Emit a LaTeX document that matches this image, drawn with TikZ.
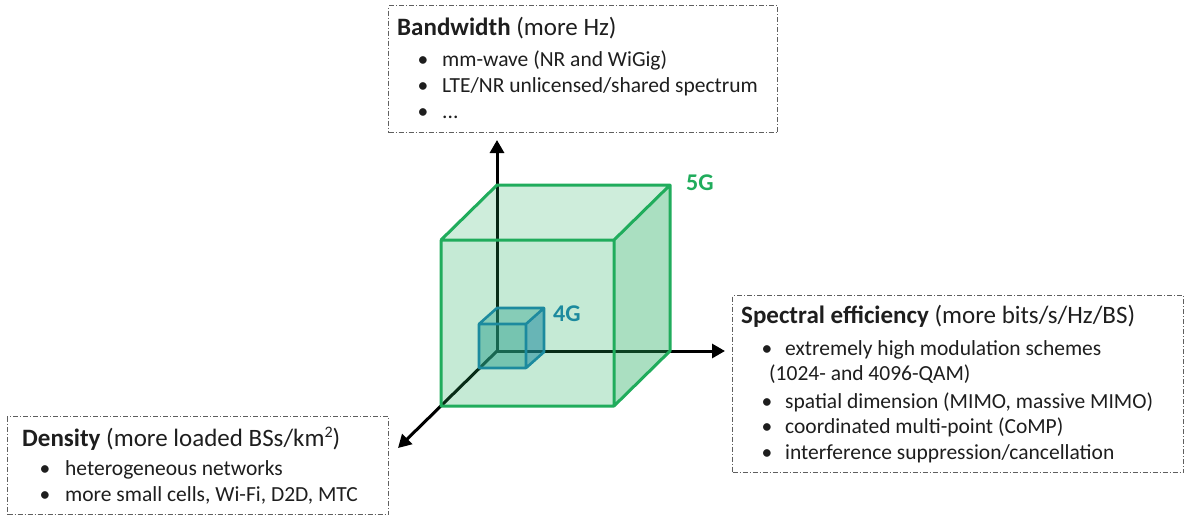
\documentclass[tikz,border=0pt]{standalone}
\usepackage{fontspec}
\setmainfont{Carlito}
\usetikzlibrary{arrows.meta}
\definecolor{fivegreen}{RGB}{32,172,92}
\definecolor{fourteal}{RGB}{28,138,158}
\definecolor{tealfill}{RGB}{40,160,140}
\definecolor{txt}{RGB}{30,30,30}
\definecolor{frame}{RGB}{95,95,95}
\newcommand{\bodyfont}{\fontsize{21.5}{26}\selectfont}
\newcommand{\headfont}{\fontsize{25}{30}\selectfont}
\newcommand{\supsq}{\raisebox{0.33em}{\fontsize{16}{16}\selectfont 2}}
\begin{document}
\begin{tikzpicture}[x=1pt,y=-1pt,
  textline/.style={anchor=base west,inner sep=0pt,text=txt,font=\bodyfont},
  headline/.style={anchor=base west,inner sep=0pt,text=txt,font=\headfont},
  bulletmark/.style={anchor=base,inner sep=0pt,text=txt,font=\bodyfont},
  infobox/.style={draw=frame,line width=1pt,dash pattern=on 5pt off 2pt on 1pt off 2pt,
    anchor=north west,inner sep=0pt},
  axisline/.style={line width=3pt,black,-{Triangle[length=13pt,width=14pt]}},
  bigedge/.style={draw=fivegreen,line width=3pt,line join=round},
  smalledge/.style={draw=fourteal,line width=2.6pt,line join=round},
  cubelabel/.style={anchor=base west,inner sep=0pt,font=\bfseries\fontsize{24}{24}\selectfont}
]
\useasboundingbox (0,0) rectangle (1187,515);

% frames of the three text panels
\node[infobox,minimum width=389pt,minimum height=127pt] (bwbox) at (388,5) {};
\node[infobox,minimum width=451pt,minimum height=177pt] (sebox) at (732,295) {};
\node[infobox,minimum width=381pt,minimum height=98pt] (dnbox) at (7,416) {};

% bandwidth panel
\node[headline] (bwtitle) at (397,35) {\textbf{Bandwidth} (more Hz)};
\node[bulletmark] (bwb1) at (423,66) {•};
\node[textline] (bwl1) at (442,66) {mm-wave (NR and WiGig)};
\node[bulletmark] (bwb2) at (423,92) {•};
\node[textline] (bwl2) at (442,92) {LTE/NR unlicensed/shared spectrum};
\node[bulletmark] (bwb3) at (423,118) {•};
\node[textline] (bwl3) at (442,118) {...};

% spectral efficiency panel
\node[headline] (setitle) at (741,323) {\textbf{Spectral efficiency} (more bits/s/Hz/BS)};
\node[bulletmark] (seb1) at (767,355) {•};
\node[textline] (sel1) at (785,355) {extremely high modulation schemes};
\node[textline] (sel1b) at (769,380) {(1024- and 4096-QAM)};
\node[bulletmark] (seb2) at (767,408) {•};
\node[textline] (sel2) at (785,408) {spatial dimension (MIMO, massive MIMO)};
\node[bulletmark] (seb3) at (767,433) {•};
\node[textline] (sel3) at (785,433) {coordinated multi-point (CoMP)};
\node[bulletmark] (seb4) at (767,459) {•};
\node[textline] (sel4) at (785,459) {interference suppression/cancellation};

% density panel
\node[headline] (dntitle) at (22,446) {\textbf{Density} (more loaded BSs/km\supsq)};
\node[bulletmark] (dnb1) at (45,475) {•};
\node[textline] (dnl1) at (65,475) {heterogeneous networks};
\node[bulletmark] (dnb2) at (45,501) {•};
\node[textline] (dnl2) at (65,501) {more small cells, Wi-Fi, D2D, MTC};

% axes
\coordinate (o) at (497,351);
\coordinate (ztip) at (497,140);
\coordinate (xtip) at (725,351);
\coordinate (ytip) at (398,448);
\draw[axisline] (o) -- (ztip);
\draw[axisline] (o) -- (xtip);
\draw[axisline] (o) -- (ytip);

% 5G cube
\coordinate (A) at (441,240);
\coordinate (B) at (614,240);
\coordinate (C) at (614,406);
\coordinate (D) at (441,406);
\coordinate (E) at (497,185);
\coordinate (F) at (670,185);
\coordinate (G) at (670,351);
\fill[fivegreen,fill opacity=0.26] (A) -- (B) -- (C) -- (D) -- cycle;
\fill[fivegreen,fill opacity=0.22] (A) -- (E) -- (F) -- (B) -- cycle;
\fill[fivegreen,fill opacity=0.38] (B) -- (F) -- (G) -- (C) -- cycle;
\draw[bigedge] (A) -- (B) -- (C) -- (D) -- cycle (A) -- (E) -- (F) -- (B) (F) -- (G) -- (C);

% 4G cube
\coordinate (a) at (479,324);
\coordinate (b) at (526,324);
\coordinate (c) at (526,368);
\coordinate (d) at (479,368);
\coordinate (e) at (497,308);
\coordinate (f) at (544,308);
\coordinate (g) at (544,352);
\fill[tealfill,fill opacity=0.5] (a) -- (b) -- (c) -- (d) -- cycle;
\fill[tealfill,fill opacity=0.4] (a) -- (e) -- (f) -- (b) -- cycle;
\fill[fourteal,fill opacity=0.55] (b) -- (f) -- (g) -- (c) -- cycle;
\draw[smalledge] (a) -- (b) -- (c) -- (d) -- cycle (a) -- (e) -- (f) -- (b) (f) -- (g) -- (c);

% cube labels
\node[cubelabel,text=fivegreen] (lbl5g) at (686,190) {5G};
\node[cubelabel,text=fourteal] (lbl4g) at (553,321) {4G};
\end{tikzpicture}
\end{document}
